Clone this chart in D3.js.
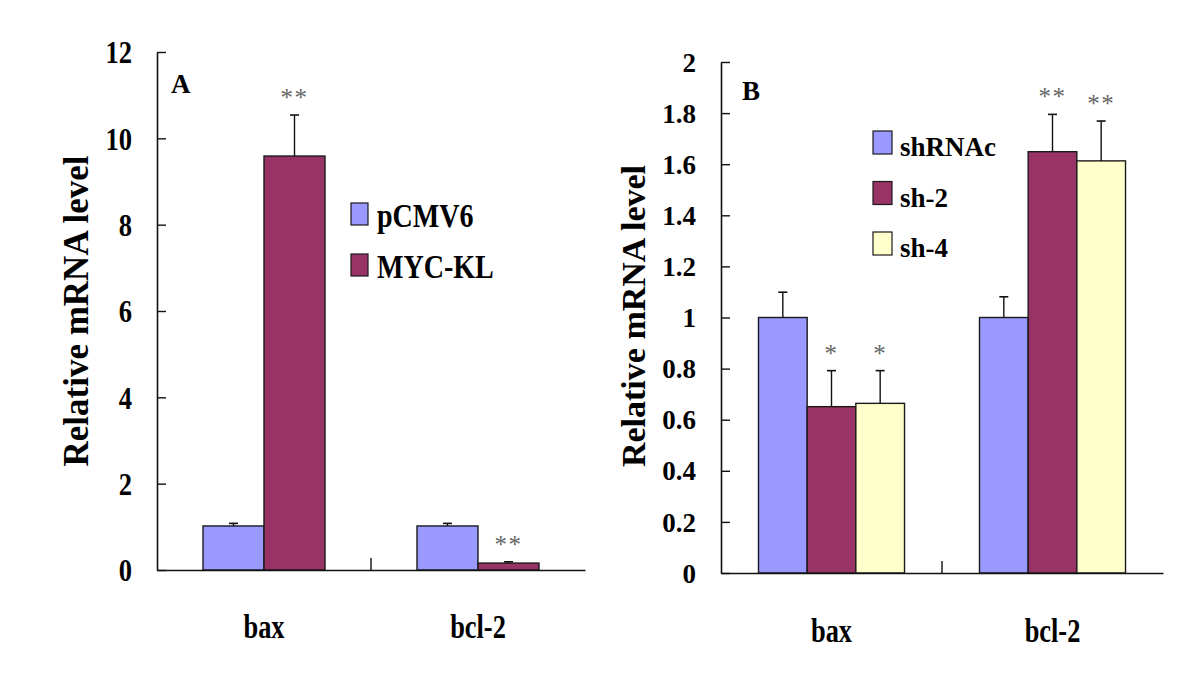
<!DOCTYPE html>
<html>
<head>
<meta charset="utf-8">
<script src="https://cdn.jsdelivr.net/npm/d3@7"></script>
<style>
  html, body { margin: 0; padding: 0; background: #fff; }
  svg { display: block; }
  text { font-family: "Liberation Serif", "Times New Roman", serif; }
</style>
</head>
<body>
<svg id="chart" width="1200" height="684"></svg>
<script>
// ---------- Data ----------
const categories = ["bax", "bcl-2"];

// Panel A
const seriesA = ["pCMV6", "MYC-KL"];
const meanA_pCMV6 = [1.02, 1.02];
const meanA_MYCKL = [9.59, 0.16];
const errA_pCMV6 = [1.08, 1.08];   // top of error bar
const errA_MYCKL = [10.54, 0.19];
const sigA_pCMV6 = ["", ""];
const sigA_MYCKL = ["**", "**"];
const ticksA = [0, 2, 4, 6, 8, 10, 12];
const tickLabelsA = ["0", "2", "4", "6", "8", "10", "12"];

// Panel B
const seriesB = ["shRNAc", "sh-2", "sh-4"];
const meanB_shRNAc = [1.0, 1.0];
const meanB_sh2 = [0.651, 1.649];
const meanB_sh4 = [0.664, 1.613];
const errB_shRNAc = [1.099, 1.081];
const errB_sh2 = [0.792, 1.795];
const errB_sh4 = [0.792, 1.769];
const sigB_shRNAc = ["", ""];
const sigB_sh2 = ["*", "**"];
const sigB_sh4 = ["*", "**"];
const ticksB = [0, 0.2, 0.4, 0.6, 0.8, 1, 1.2, 1.4, 1.6, 1.8, 2];
const tickLabelsB = ["0", "0.2", "0.4", "0.6", "0.8", "1", "1.2", "1.4", "1.6", "1.8", "2"];

const colors = ["#9999FF", "#993366", "#FFFFCC"];
const yTitle = "Relative mRNA level";

// ---------- Drawing ----------
const svg = d3.select("#chart");

function panel(cfg) {
  const g = svg.append("g");
  const x = d3.scaleBand().domain(categories).range([cfg.x0, cfg.x1]).paddingInner(0).paddingOuter(0);
  const xi = d3.scaleBand().domain(cfg.series).range([0, x.bandwidth()]).paddingInner(0).paddingOuter(cfg.po);
  const y = d3.scaleLinear().domain([0, cfg.ymax]).range([cfg.yb, cfg.yt]);

  const rows = [];
  cfg.series.forEach((s, si) => {
    categories.forEach((c, ci) => {
      rows.push({ s, si, c, v: cfg.means[si][ci], e: cfg.errs[si][ci], sig: cfg.sigs[si][ci] });
    });
  });

  // bars
  g.selectAll("rect.bar").data(rows).enter().append("rect")
    .attr("class", "bar")
    .attr("x", d => x(d.c) + xi(d.s))
    .attr("y", d => y(d.v))
    .attr("width", xi.bandwidth())
    .attr("height", d => y(0) - y(d.v))
    .attr("fill", d => colors[d.si])
    .attr("stroke", "#1a1a1a")
    .attr("stroke-width", 1.4);

  // error bars
  const eg = g.selectAll("g.err").data(rows).enter().append("g").attr("class", "err");
  eg.append("line")
    .attr("x1", d => x(d.c) + xi(d.s) + xi.bandwidth() / 2)
    .attr("x2", d => x(d.c) + xi(d.s) + xi.bandwidth() / 2)
    .attr("y1", d => y(d.v))
    .attr("y2", d => y(d.e))
    .attr("stroke", "#111").attr("stroke-width", 1.4);
  eg.append("line")
    .attr("x1", d => x(d.c) + xi(d.s) + xi.bandwidth() / 2 - 4.5)
    .attr("x2", d => x(d.c) + xi(d.s) + xi.bandwidth() / 2 + 4.5)
    .attr("y1", d => y(d.e))
    .attr("y2", d => y(d.e))
    .attr("stroke", "#111").attr("stroke-width", 1.6);

  // significance marks
  g.selectAll("text.sig").data(rows.filter(d => d.sig)).enter().append("text")
    .attr("class", "sig")
    .attr("x", d => x(d.c) + xi(d.s) + xi.bandwidth() / 2)
    .attr("y", d => y(d.e) - 9)
    .attr("text-anchor", "middle")
    .attr("font-size", 25)
    .attr("letter-spacing", 1.5)
    .attr("fill", "#666")
    .text(d => d.sig);

  // y axis
  const yAxis = d3.axisLeft(y).tickValues(cfg.ticks)
    .tickFormat((d, i) => cfg.tickLabels[i])
    .tickSizeInner(-9).tickSizeOuter(0).tickPadding(0);
  const ya = g.append("g").attr("transform", `translate(${cfg.x0},0)`).call(yAxis);
  ya.select(".domain").attr("stroke", "#111").attr("stroke-width", 1.6);
  ya.selectAll(".tick line").attr("stroke", "#111").attr("stroke-width", 1.4);
  ya.selectAll(".tick text")
    .attr("x", null)
    .attr("transform", `translate(${-cfg.tickPad},0) scale(${cfg.tsx},1)`)
    .attr("font-family", "Liberation Serif, serif")
    .attr("font-weight", "bold")
    .attr("font-size", cfg.tickFont)
    .attr("fill", "#000")
    .attr("dy", "0.34em");

  // x axis (tick only between categories)
  const xAxis = d3.axisBottom(x).tickSize(0).tickFormat("");
  const xa = g.append("g").attr("transform", `translate(0,${cfg.yb})`).call(xAxis);
  xa.select(".domain").attr("stroke", "#111").attr("stroke-width", 1.6);
  xa.selectAll(".tick").remove();
  xa.selectAll("line.div").data(categories.slice(1)).enter().append("line")
    .attr("class", "div")
    .attr("x1", d => x(d)).attr("x2", d => x(d))
    .attr("y1", 0).attr("y2", -12)
    .attr("stroke", "#111").attr("stroke-width", 1.4);

  // category labels
  g.selectAll("text.cat").data(categories).enter().append("text")
    .attr("class", "cat")
    .attr("transform", d => `translate(${x(d) + x.bandwidth() / 2},${cfg.catY}) scale(${cfg.csx},1)`)
    .attr("text-anchor", "middle")
    .attr("font-weight", "bold")
    .attr("font-size", cfg.catFont)
    .text(d => d);

  // y title
  g.append("text")
    .attr("transform", `translate(${cfg.titleX},${cfg.titleY}) rotate(-90)`)
    .attr("text-anchor", "middle")
    .attr("font-weight", "bold")
    .attr("font-size", cfg.titleFont)
    .text(yTitle);

  // panel letter
  g.append("text")
    .attr("x", cfg.letterX).attr("y", cfg.letterY)
    .attr("font-weight", "bold").attr("font-size", 27)
    .text(cfg.letter);

  // legend
  const lg = g.selectAll("g.leg").data(cfg.series).enter().append("g").attr("class", "leg")
    .attr("transform", (d, i) => `translate(${cfg.legX},${cfg.legY + i * cfg.legStep})`);
  lg.append("rect")
    .attr("x", 0).attr("y", -cfg.legH)
    .attr("width", cfg.legW).attr("height", cfg.legH)
    .attr("fill", (d, i) => colors[i])
    .attr("stroke", "#1a1a1a").attr("stroke-width", 1.2);
  lg.append("text")
    .attr("transform", `translate(${cfg.legTextDx},2) scale(${cfg.lsx},1)`)
    .attr("font-weight", "bold")
    .attr("font-size", cfg.legFont)
    .text(d => d);
}

panel({
  series: seriesA,
  means: [meanA_pCMV6, meanA_MYCKL],
  errs: [errA_pCMV6, errA_MYCKL],
  sigs: [sigA_pCMV6, sigA_MYCKL],
  ticks: ticksA, tickLabels: tickLabelsA, ymax: 12,
  x0: 157, x1: 585, yb: 570, yt: 52, po: 0.754,
  tickPad: 25, tsx: 0.83, tickFont: 32,
  catY: 638, catFont: 33, csx: 0.8,
  titleX: 88, titleY: 311, titleFont: 35,
  letter: "A", letterX: 171, letterY: 93,
  legX: 351, legY: 225, legStep: 51, legW: 17, legH: 22, legTextDx: 26, legFont: 33, lsx: 0.85
});

panel({
  series: seriesB,
  means: [meanB_shRNAc, meanB_sh2, meanB_sh4],
  errs: [errB_shRNAc, errB_sh2, errB_sh4],
  sigs: [sigB_shRNAc, sigB_sh2, sigB_sh4],
  ticks: ticksB, tickLabels: tickLabelsB, ymax: 2,
  x0: 721, x1: 1163, yb: 573, yt: 62, po: 0.77,
  tickPad: 25, tsx: 1, tickFont: 27,
  catY: 642, catFont: 33, csx: 0.8,
  titleX: 645, titleY: 316, titleFont: 34,
  letter: "B", letterX: 742, letterY: 100,
  legX: 873, legY: 154, legStep: 50.5, legW: 19, legH: 23, legTextDx: 27, legFont: 27, lsx: 1
});
</script>
</body>
</html>
